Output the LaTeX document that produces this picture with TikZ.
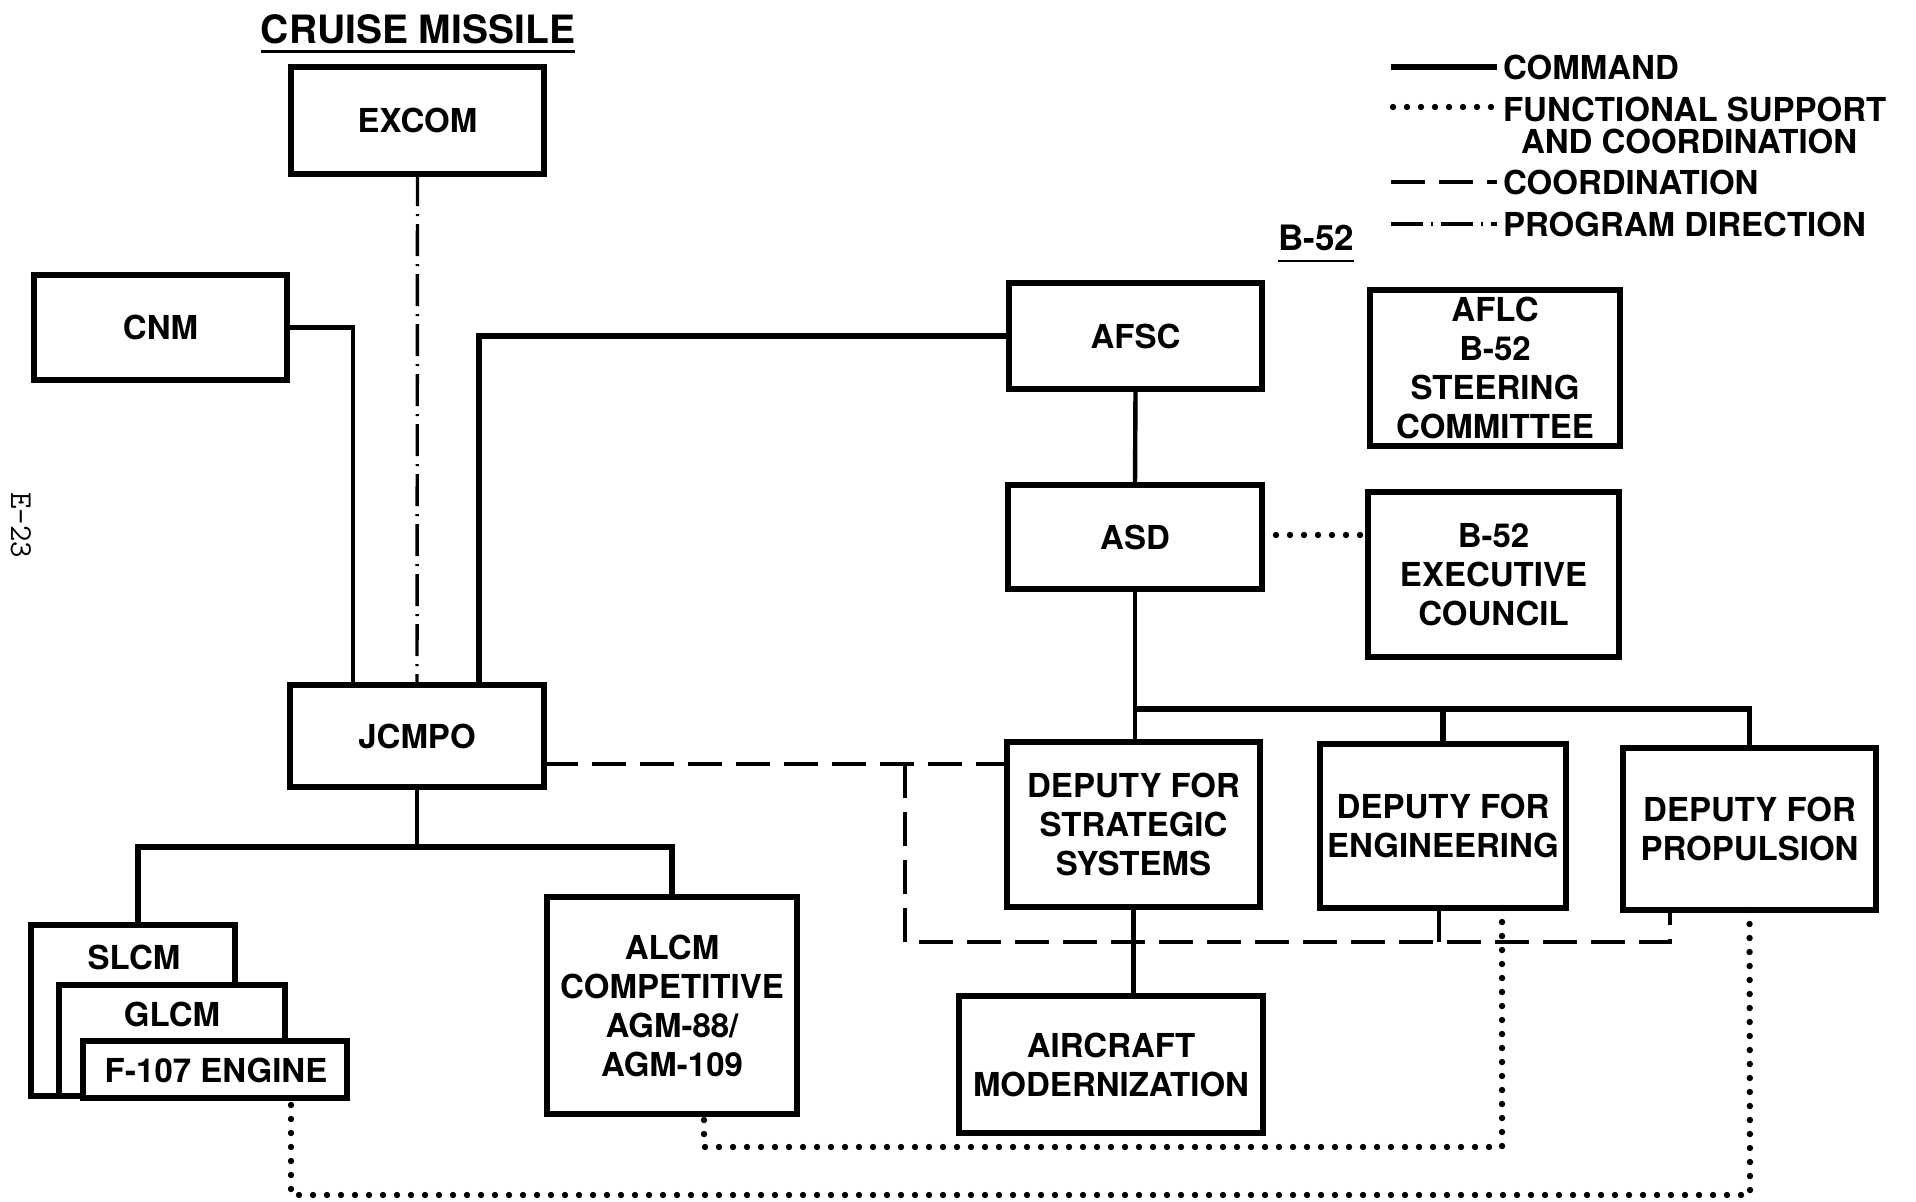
\documentclass[tikz,border=0pt]{standalone}
\usepackage{fontspec}
\setmainfont{TeX Gyre Heros}
\begin{document}
\begin{tikzpicture}[x=0.5pt,y=-0.5pt,
  box/.style={draw, line width=2.8pt, fill=white, inner sep=0pt, outer sep=0pt,
    align=center, font=\bfseries\fontsize{16.5}{19.5}\selectfont},
  lbl/.style={inner sep=0pt, outer sep=0pt, align=center, font=\bfseries\fontsize{16.5}{19.5}\selectfont},
  cmd/.style={line width=2.2pt},
  coord/.style={line width=2.4pt, dash pattern=on 17pt off 7pt},
  func/.style={line width=3.2pt, line cap=round, dash pattern=on 0pt off 7pt},
  progdir/.style={line width=1.7pt, dash pattern=on 16pt off 4pt on 1pt off 4pt}]
\useasboundingbox[fill=white] (0,0) rectangle (1916,1201);
\newcommand\mybox[6]{\node[box, minimum width={(#4-#2)*0.5pt}, minimum height={(#5-#3)*0.5pt}] (#1) at ({(#2+#4)/2},{(#3+#5)/2}) {#6};}

% titles
\node[lbl, font=\bfseries\fontsize{19.5}{22}\selectfont] (title) at (418,29) {CRUISE MISSILE};
\draw[line width=1.6pt] ([yshift=-4pt]title.south west) -- ([yshift=-4pt]title.south east);
\node[lbl, font=\bfseries\fontsize{17.5}{20}\selectfont] (btitle) at (1316,238) {B-52};
\draw[line width=1.4pt] ([yshift=-5pt]btitle.south west) -- ([yshift=-5pt]btitle.south east);
\node[rotate=-90, inner sep=0pt, font=\ttfamily\fontsize{16}{16}\selectfont] (pg) at (21,525) {E-23};

% legend
\coordinate (l1a) at (1391,67);  \coordinate (l1b) at (1497,67);
\coordinate (l2a) at (1393,107); \coordinate (l2b) at (1497,107);
\coordinate (l3a) at (1391,182); \coordinate (l3b) at (1497,182);
\coordinate (l4a) at (1391,224); \coordinate (l4b) at (1497,224);
\draw[line width=3.2pt] (l1a) -- (l1b);
\draw[func] (l2a) -- (l2b);
\draw[coord] (l3a) -- (l3b);
\draw[progdir, line width=2.2pt] (l4a) -- (l4b);
\node[lbl, anchor=west] (lg1) at (1503,67) {COMMAND};
\node[lbl, anchor=west] (lg2) at (1503,109) {FUNCTIONAL SUPPORT};
\node[lbl, anchor=west] (lg2b) at (1521,141) {AND COORDINATION};
\node[lbl, anchor=west] (lg3) at (1503,182) {COORDINATION};
\node[lbl, anchor=west] (lg4) at (1503,224) {PROGRAM DIRECTION};

% boxes
\mybox{EXCOM}{291}{67}{544}{174}{EXCOM}
\mybox{CNM}{34}{275}{287}{380}{CNM}
\mybox{JCMPO}{290}{685}{544}{787}{JCMPO}
\mybox{AFSC}{1009}{283}{1262}{389}{AFSC}
\mybox{ASD}{1008}{485}{1262}{589}{ASD}
\mybox{AFLC}{1370}{290}{1620}{446}{AFLC\\B-52\\STEERING\\COMMITTEE}
\mybox{EXEC}{1368}{492}{1619}{657}{B-52\\EXECUTIVE\\COUNCIL}
\mybox{DSS}{1007}{742}{1260}{907}{DEPUTY FOR\\STRATEGIC\\SYSTEMS}
\mybox{DENG}{1320}{744}{1566}{908}{DEPUTY FOR\\ENGINEERING}
\mybox{DPROP}{1623}{748}{1876}{910}{DEPUTY FOR\\PROPULSION}
\mybox{AM}{959}{996}{1263}{1133}{AIRCRAFT\\MODERNIZATION}
\mybox{ALCM}{547}{897}{797}{1114}{ALCM\\COMPETITIVE\\AGM-88/\\AGM-109}
\mybox{SLCM}{31}{925}{235}{1096}{}
\mybox{GLCM}{59}{985}{285}{1096}{}
\mybox{F107}{83}{1041}{347}{1098}{}
\node[lbl] (slcmT) at (134,957) {SLCM};
\node[lbl] (glcmT) at (172,1014) {GLCM};
\node[lbl] (f107T) at (216,1070) {F-107 ENGINE};

% command lines
\draw[progdir] (EXCOM.south) -- (JCMPO.north);
\draw[cmd] (CNM.east) -| ([xshift=31.5pt]JCMPO.north west);
\draw[cmd, line width=2.8pt] (AFSC.west) -| ([xshift=94.5pt]JCMPO.north west);
\draw[cmd] (AFSC.south) -- (ASD.north);
\coordinate (ab) at (1135,709);
\draw[cmd] (ASD.south) -- (ASD.south |- DSS.north);
\draw[cmd, line width=2.6pt] (ab) -| (DENG.north);
\draw[cmd, line width=2.6pt] (ab) -| (DPROP.north);
\draw[cmd] (DSS.south) -- (DSS.south |- AM.north);
\coordinate (jb) at (417,847);
\draw[cmd] (JCMPO.south) -- (jb);
\draw[cmd, line width=2.6pt] (jb) -| (ALCM.north);
\draw[cmd, line width=2.6pt] (jb) -| ([xshift=2.5pt]SLCM.north);

% coordination
\coordinate (je) at ([yshift=-14pt]JCMPO.east);
\draw[coord] (je) -- (je -| DSS.west);
\coordinate (dk) at (905,764);
\coordinate (cb) at (1670,942);
\draw[coord] (dk) |- (cb) -- (cb |- DPROP.south);
\draw[coord] ([xshift=-2pt]DENG.south) -- ([xshift=-2pt]DENG.south |- cb);

% functional support
\draw[func] ([yshift=1pt]ASD.east) -- ([yshift=1pt]ASD.east -| EXEC.west);
\coordinate (fs1) at (1502,1147);
\draw[func] ([xshift=29.5pt]DENG.south) -- (fs1) -| ([xshift=16pt]ALCM.south);
\coordinate (fs2) at (1750,1195);
\draw[func] (DPROP.south) -- (fs2) -| ([xshift=38pt]F107.south);
\end{tikzpicture}
\end{document}
